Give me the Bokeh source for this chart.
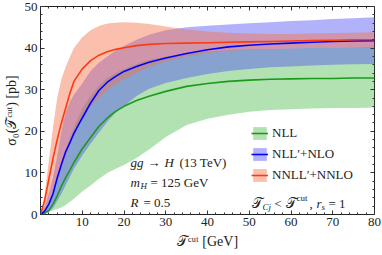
from bokeh.plotting import figure
from bokeh.models import (Range1d, FixedTicker, LinearAxis, Legend,
                          LegendItem, Label, ColumnDataSource)
from bokeh.embed import file_html
from bokeh.resources import INLINE

# ---------------- data ----------------
tau = [0, 1, 2, 3, 4, 5, 6, 7, 8, 10, 12, 14, 16, 18, 20, 23, 26, 30, 35,
       40, 45, 50, 55, 60, 65, 70, 75, 80]

# NLL
nll = [0, 0.3, 1.0, 2.5, 4.5, 6.8, 8.8, 10.6, 12.5, 15.8, 18.5, 21.2, 23.2,
       24.8, 26.0, 27.4, 28.4, 29.6, 30.8, 31.5, 32.0, 32.3, 32.5, 32.6,
       32.7, 32.7, 32.8, 32.8]
nll_lo = [0, 0.3, 0.6, 1.0, 1.3, 1.7, 2.2, 3.0, 3.8, 5.5, 7.0, 8.6, 10.0,
          11.0, 11.9, 13.6, 15.6, 18.6, 21.5, 23.0, 24.0, 24.7, 25.1, 25.3,
          25.5, 25.6, 25.6, 25.7]
nll_hi = [0, 1.0, 3.0, 5.5, 9.0, 12.0, 15.0, 18.0, 21.0, 25.5, 28.5, 31.0,
          32.8, 34.0, 35.0, 36.2, 37.2, 38.0, 38.7, 39.2, 39.5, 39.7, 39.8,
          39.9, 40.0, 40.1, 40.2, 40.3]

# NLL'+NLO
nlo = [0, 0.8, 2.5, 5.0, 8.8, 12.0, 15.0, 17.2, 19.5, 23.2, 26.8, 29.8,
       31.8, 33.2, 34.4, 35.6, 36.6, 37.6, 38.7, 39.6, 40.3, 40.7, 41.0,
       41.2, 41.4, 41.6, 41.7, 41.8]
nlo_lo = [0, 0.2, 0.6, 1.5, 3.2, 5.0, 7.0, 9.0, 11.0, 14.2, 17.0, 19.7,
          22.3, 24.5, 26.0, 28.5, 30.2, 31.6, 32.8, 33.8, 34.5, 35.0, 35.4,
          35.6, 35.8, 36.0, 36.1, 36.2]
nlo_hi = [0, 2.0, 5.0, 9.0, 14.0, 20.0, 24.5, 27.0, 28.8, 31.5, 34.5, 36.5,
          38.0, 39.4, 40.5, 42.0, 43.2, 44.3, 45.0, 45.4, 45.7, 46.0, 46.2,
          46.5, 46.7, 47.0, 47.2, 47.4]

# NNLL'+NNLO
nnlo = [0, 3.4, 8.5, 13.5, 18.0, 22.0, 25.5, 29.0, 32.0, 35.0, 37.0, 38.3,
        39.1, 39.7, 40.1, 40.6, 40.9, 41.1, 41.2, 41.3, 41.4, 41.5, 41.6,
        41.7, 41.8, 41.9, 42.0, 42.0]
nnlo_lo = [0, 1.0, 3.0, 5.5, 8.0, 11.0, 14.0, 16.5, 19.0, 23.0, 26.0, 28.0,
           30.0, 31.3, 32.5, 34.0, 35.5, 36.8, 38.0, 38.8, 39.3, 39.6, 39.8,
           39.9, 40.0, 40.1, 40.2, 40.2]
nnlo_hi = [0, 5.0, 13.0, 21.0, 28.0, 32.5, 35.4, 37.8, 40.0, 42.6, 44.3,
           45.3, 45.9, 46.1, 46.2, 46.1, 45.8, 45.2, 44.5, 44.0, 43.7, 43.5,
           43.4, 43.4, 43.5, 43.6, 43.7, 43.8]

series_labels = ["NLL", "NLL\u2032+NLO", "NNLL\u2032+NNLO"]
x_label = "\U0001D4AF\u1D9C\u1D58\u1D57 [GeV]"
y_label = "\u03C3\u2080(\U0001D4AF\u1D9C\u1D58\u1D57) [pb]"

x_major = [0, 10, 20, 30, 40, 50, 60, 70, 80]
x_tick_labels = {0: "", 10: "10", 20: "20", 30: "30", 40: "40", 50: "50",
                 60: "60", 70: "70", 80: "80"}
x_minor = [v for v in range(0, 81, 2) if v % 10]
y_major = [0, 10, 20, 30, 40, 50]
y_minor = [v for v in range(0, 51, 2) if v % 10]

# ---------------- styling ----------------
SERIF = "Liberation Serif"
fills = ["#54bf54", "#5454f4", "#f57249"]
lines = ["#1c9a1c", "#0000ff", "#ff3a10"]
FA = 0.45
TICK = "#333333"

src = ColumnDataSource(dict(tau=tau, nll=nll, nll_lo=nll_lo, nll_hi=nll_hi,
                            nlo=nlo, nlo_lo=nlo_lo, nlo_hi=nlo_hi,
                            nnlo=nnlo, nnlo_lo=nnlo_lo, nnlo_hi=nnlo_hi))

p = figure(width=382, height=255, x_range=Range1d(0, 80), y_range=Range1d(0, 50),
           output_backend="svg", toolbar_location=None,
           min_border_left=37, min_border_right=8, min_border_top=6,
           min_border_bottom=41, x_axis_label=x_label, y_axis_label=y_label)
p.grid.visible = False
p.outline_line_color = "#222222"
p.outline_line_width = 1
p.background_fill_color = "white"
p.border_fill_color = "white"

def style_axis(ax):
    ax.axis_line_color = None
    ax.major_tick_in = 4
    ax.major_tick_out = 0
    ax.minor_tick_in = 2
    ax.minor_tick_out = 0
    ax.major_tick_line_color = TICK
    ax.minor_tick_line_color = TICK
    ax.major_label_text_font = SERIF
    ax.major_label_text_color = "#222222"
    ax.major_label_text_font_size = "13px"
    ax.major_label_standoff = 3
    ax.axis_label_text_font = SERIF
    ax.axis_label_text_font_style = "normal"
    ax.axis_label_text_font_size = "14px"
    ax.axis_label_text_color = "#222222"

xa = p.xaxis[0]
xa.ticker = FixedTicker(ticks=x_major, minor_ticks=x_minor)
xa.major_label_overrides = x_tick_labels
style_axis(xa)
xa.axis_label_standoff = 5

ya = p.yaxis[0]
ya.ticker = FixedTicker(ticks=y_major, minor_ticks=y_minor)
style_axis(ya)
ya.axis_label_standoff = 3

# tick marks on the top and right frame edges (no labels)
def tick_only_axis(positions, length, side):
    ax = LinearAxis(ticker=FixedTicker(ticks=[], minor_ticks=positions),
                    axis_line_color=None, minor_tick_in=length, minor_tick_out=0,
                    major_tick_in=0, major_tick_out=0, major_label_standoff=0,
                    minor_tick_line_color=TICK)
    p.add_layout(ax, side)

tick_only_axis(x_major, 4, "above")
tick_only_axis(x_minor, 2, "above")
tick_only_axis(y_major, 4, "right")
tick_only_axis(y_minor, 2, "right")

# bands
bands = []
for key, fc in zip(["nll", "nlo", "nnlo"], fills):
    bands.append(p.varea(x="tau", y1=key + "_lo", y2=key + "_hi", source=src,
                         fill_color=fc, fill_alpha=FA))
# central lines
clines = []
for key, lc in zip(["nll", "nlo", "nnlo"], lines):
    clines.append(p.line(x="tau", y=key, source=src, line_color=lc, line_width=1.6))

items = [LegendItem(label=lab, renderers=[b, l])
         for lab, b, l in zip(series_labels, bands, clines)]
leg = Legend(items=items, location=(211, 31), padding=0, margin=0, spacing=5,
             glyph_width=17, glyph_height=16, label_height=16,
             label_standoff=4, label_text_font=SERIF,
             label_text_font_size="13px", label_text_color="#222222",
             background_fill_alpha=0, border_line_alpha=0)
p.add_layout(leg)

def txt(px, pyb, s, size=13, italic=False):
    p.add_layout(Label(x=px - 37, y=214 - pyb, x_units="screen", y_units="screen",
                       text=s, text_font=SERIF, text_font_size=f"{size}px",
                       text_font_style="italic" if italic else "normal",
                       text_baseline="alphabetic", text_align="left",
                       text_color="#222222"))

# gg -> H (13 TeV)
txt(127, 162, "gg", italic=True)
txt(144, 162, "\u2192")
txt(161, 162, "H", italic=True)
txt(176, 162, "(13 TeV)")
# m_H = 125 GeV
txt(127, 182, "m", italic=True)
txt(137, 185, "H", size=9, italic=True)
txt(147, 182, "= 125 GeV")
# R = 0.5
txt(127, 202, "R", italic=True)
txt(140, 202, "= 0.5")
# T_Cj < T^cut, r_s = 1
txt(248, 203, "\U0001D4AF", size=14)
txt(259, 206, "Cj", size=9, italic=True)
txt(271, 203, "<")
txt(282, 203, "\U0001D4AF", size=14)
txt(293, 197, "cut", size=9)
txt(306, 203, ",")
txt(313, 203, "r", italic=True)
txt(318, 206, "s", size=9, italic=True)
txt(325, 203, "= 1")

open("out.html", "w").write(file_html(p, INLINE))
